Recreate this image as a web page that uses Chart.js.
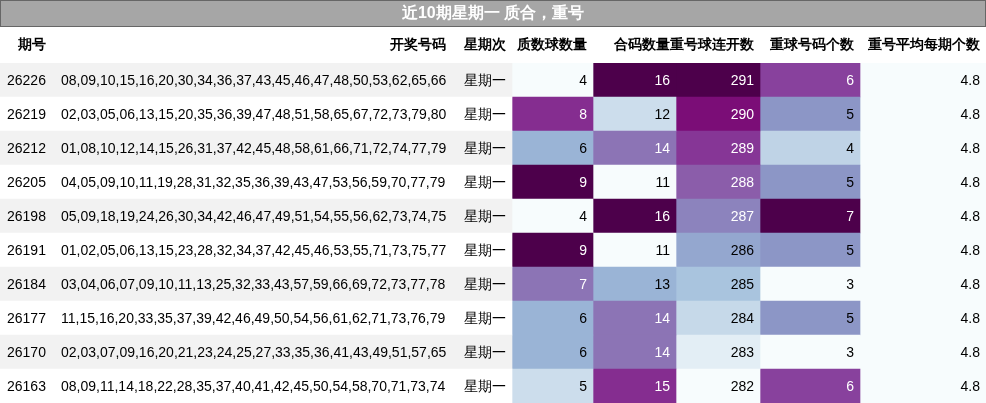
<!DOCTYPE html>
<html><head><meta charset="utf-8">
<script src="https://cdn.jsdelivr.net/npm/chart.js@4"></script>
<style>body{margin:0;background:#fff}#w{width:986px;height:403px}</style>
</head><body><div id="w"><canvas id="c"></canvas></div>
<script>
const title = '近10期星期一 质合，重号';
const headers = ['期号','开奖号码','星期次','质数球数量','合码数量','重号球连开数','重球号码个数','重号平均每期个数'];
const issues = ['26226','26219','26212','26205','26198','26191','26184','26177','26170','26163'];
const draws = [
'08,09,10,15,16,20,30,34,36,37,43,45,46,47,48,50,53,62,65,66',
'02,03,05,06,13,15,20,35,36,39,47,48,51,58,65,67,72,73,79,80',
'01,08,10,12,14,15,26,31,37,42,45,48,58,61,66,71,72,74,77,79',
'04,05,09,10,11,19,28,31,32,35,36,39,43,47,53,56,59,70,77,79',
'05,09,18,19,24,26,30,34,42,46,47,49,51,54,55,56,62,73,74,75',
'01,02,05,06,13,15,23,28,32,34,37,42,45,46,53,55,71,73,75,77',
'03,04,06,07,09,10,11,13,25,32,33,43,57,59,66,69,72,73,77,78',
'11,15,16,20,33,35,37,39,42,46,49,50,54,56,61,62,71,73,76,79',
'02,03,07,09,16,20,21,23,24,25,27,33,35,36,41,43,49,51,57,65',
'08,09,11,14,18,22,28,35,37,40,41,42,45,50,54,58,70,71,73,74'];
const weekday = Array(10).fill('星期一');
const primeCount = [4,8,6,9,4,9,7,6,6,5];
const compositeCount = [16,12,14,11,16,11,13,14,14,15];
const repeatStreak = [291,290,289,288,287,286,285,284,283,282];
const repeatCount = [6,5,4,5,7,5,3,5,3,6];
const repeatAvg = [4.8,4.8,4.8,4.8,4.8,4.8,4.8,4.8,4.8,4.8];

// layout
const colEdges = [0,55,452,512,593,676,760,860,986];
const heatCols = [primeCount,compositeCount,repeatStreak,repeatCount,repeatAvg];
const stops = ['#f7fcfd','#e0ecf4','#bfd3e6','#9ebcda','#8c96c6','#8c6bb1','#88419d','#810f7c','#4d004b'];
function hex(h){return [1,3,5].map(i=>parseInt(h.substr(i,2),16));}
function cmap(t){t=Math.max(0,Math.min(1,t));const p=t*(stops.length-1),i=Math.min(Math.floor(p),stops.length-2),f=p-i;const a=hex(stops[i]),b=hex(stops[i+1]);return 'rgb('+a.map((v,k)=>Math.round(v+(b[k]-v)*f)).join(',')+')';}
function norm(arr,v){const mn=Math.min(...arr),mx=Math.max(...arr);return mx===mn?0:(v-mn)/(mx-mn);}

const datasets=[];
// row backgrounds
datasets.push({data:issues.map(()=>[0,colEdges[3]]),backgroundColor:issues.map((_,i)=>i%2===0?'#f2f2f2':'#ffffff'),barPercentage:1,categoryPercentage:1,grouped:false});
heatCols.forEach((arr,k)=>{
  datasets.push({data:arr.map(()=>[colEdges[3+k],colEdges[4+k]]),backgroundColor:arr.map(v=>cmap(norm(arr,v))),barPercentage:1,categoryPercentage:1,grouped:false});
});

const textPlugin={id:'txt',afterDraw(ch){
  const c=ch.ctx,y=ch.scales.y;
  c.save();
  c.fillStyle='#a6a6a6';c.fillRect(0,0,986,27);
  c.strokeStyle='#666';c.lineWidth=1;c.strokeRect(0.5,0.5,985,26);
  c.fillStyle='#fff';c.font='bold 16px "Liberation Sans", Arial';c.textAlign='center';c.textBaseline='middle';
  c.fillText(title,493,14);
  c.fillStyle='#000';c.font='bold 14px "Liberation Sans", Arial';
  headers.forEach((h,i)=>{
    let x; if(i===0){c.textAlign='left';x=18;} else if(i===2){c.textAlign='center';x=(colEdges[2]+colEdges[3])/2+3;} else {c.textAlign='right';x=colEdges[i+1]-6;}
    c.fillText(h,x,45);
  });
  c.font='14px "Liberation Sans", Arial';
  issues.forEach((id,r)=>{
    const yy=y.getPixelForValue(r)+1;
    c.fillStyle='#000';c.textAlign='left';c.fillText(id,7,yy);c.fillText(draws[r],61,yy);
    c.textAlign='center';c.fillText(weekday[r],(colEdges[2]+colEdges[3])/2+3,yy);
    c.textAlign='right';
    heatCols.forEach((arr,k)=>{
      const t=norm(arr,arr[r]);c.fillStyle=t>0.5?'#fff':'#000';
      c.fillText(k===4?arr[r].toFixed(1):String(arr[r]),colEdges[4+k]-6,yy);
    });
  });
  c.restore();
}};

new Chart(document.getElementById('c'),{type:'bar',
 data:{labels:issues,datasets},
 options:{indexAxis:'y',responsive:true,maintainAspectRatio:false,animation:false,
  layout:{padding:{top:63,left:0,right:0,bottom:0}},
  plugins:{legend:{display:false},tooltip:{enabled:false}},
  scales:{x:{type:'linear',min:0,max:986,display:false},y:{display:false,offset:true}}},
 plugins:[textPlugin]});
</script></body></html>
